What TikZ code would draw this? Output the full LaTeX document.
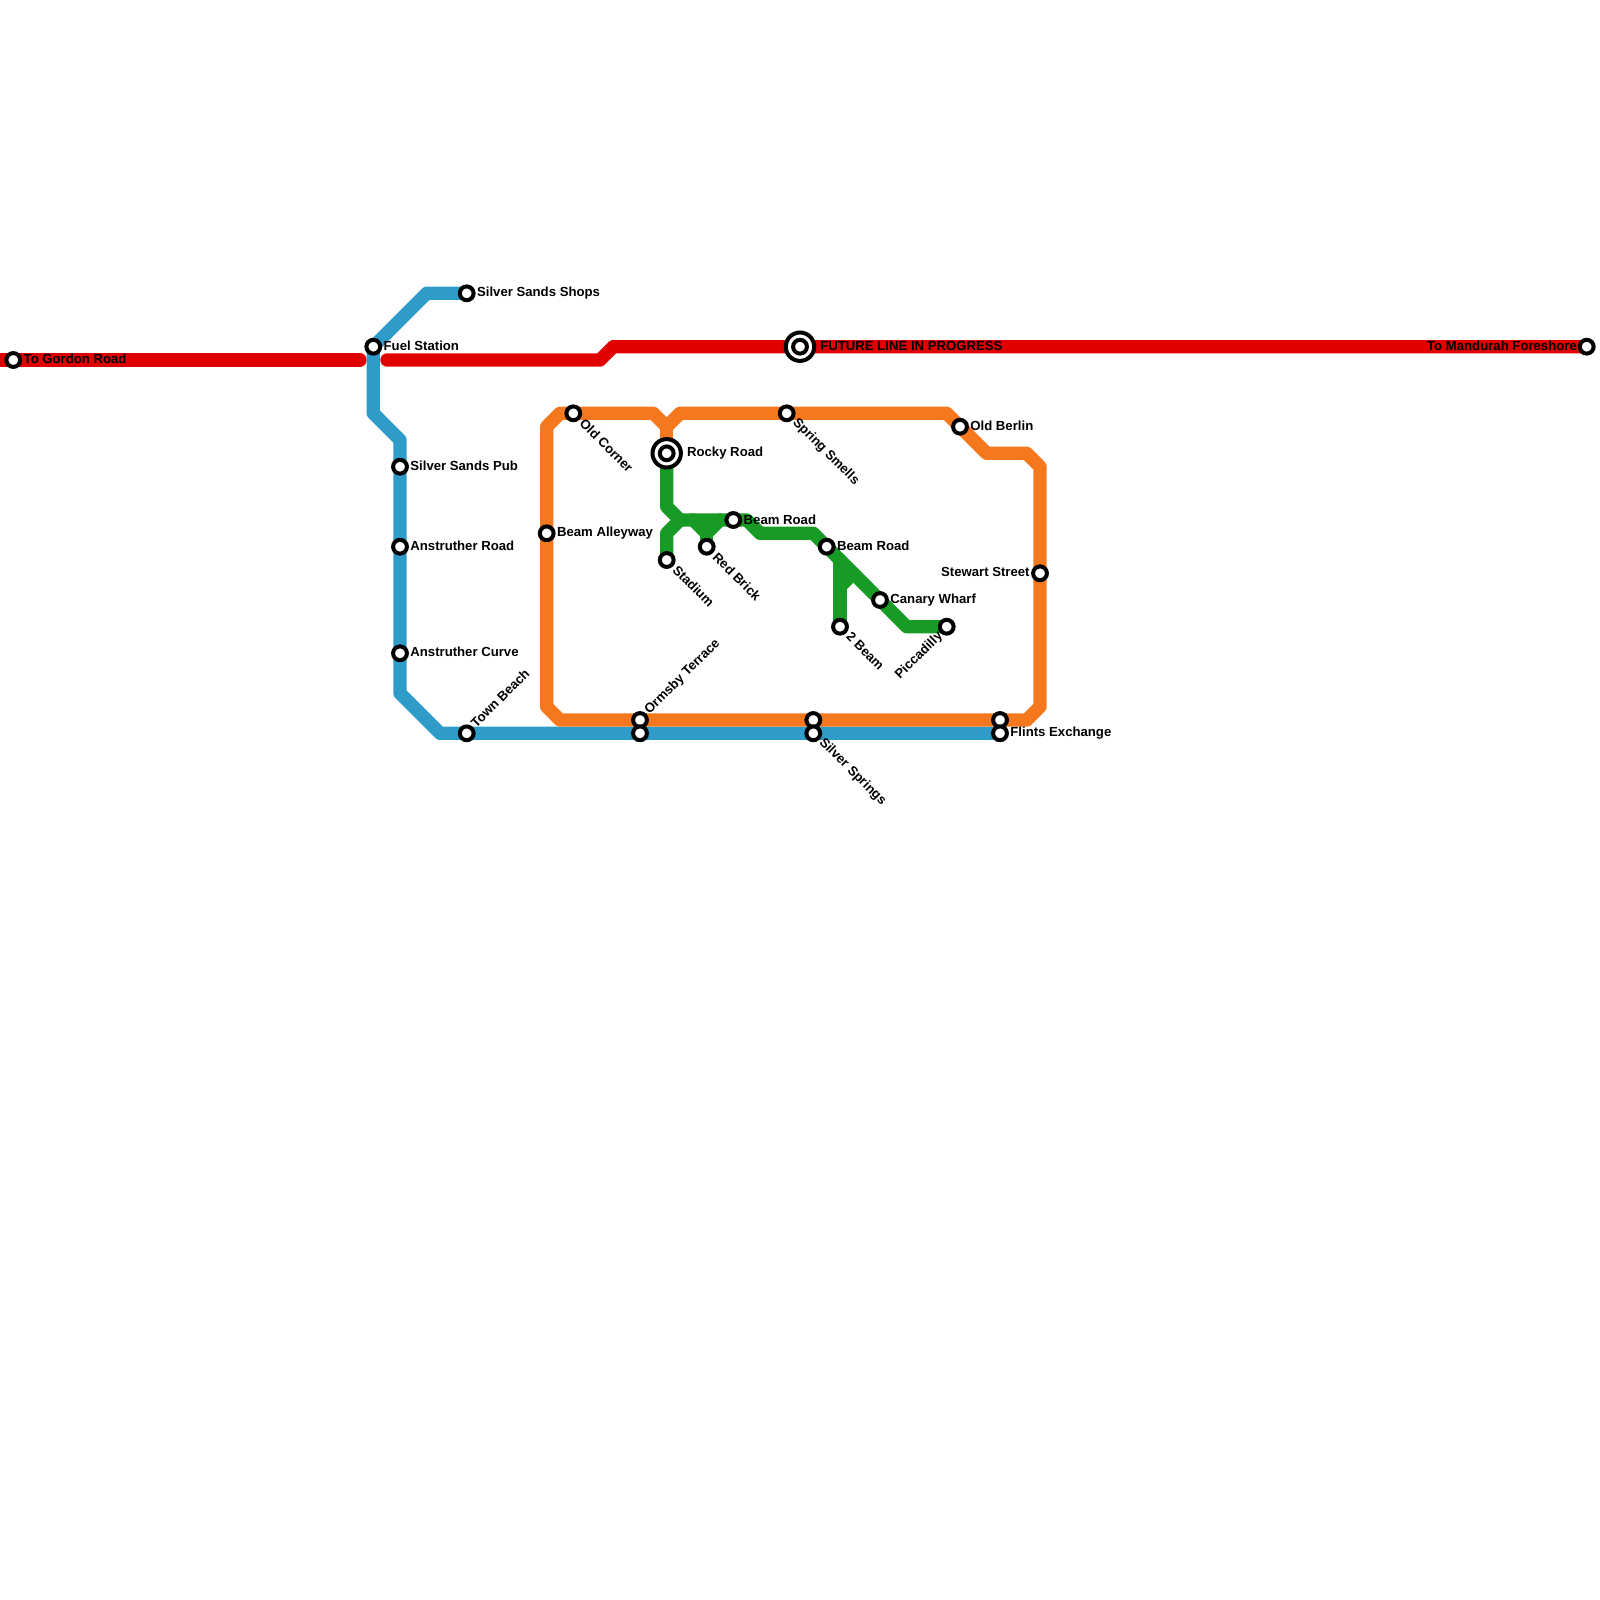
\documentclass[tikz,border=0pt]{standalone}
\usepackage{fontspec}
\setmainfont{Liberation Sans}
\tikzset{
  x=0.5pt,y=-0.5pt,
  railline/.style={line width=6.67pt,line cap=round,line join=round},
  redline/.style={railline,draw={rgb,255:red,224;green,0;blue,0}},
  blueline/.style={railline,draw={rgb,255:red,47;green,155;blue,200}},
  orangeline/.style={railline,draw={rgb,255:red,246;green,120;blue,30}},
  greenline/.style={railline,draw={rgb,255:red,24;green,155;blue,36}},
  stn/.style={circle,draw=black,fill=white,line width=2pt,minimum size=6.9pt,inner sep=0pt},
  hub/.style={circle,draw=black,fill=white,line width=2pt,minimum size=14.2pt,inner sep=0pt},
  lbl/.style={font=\bfseries\fontsize{6.58pt}{7pt}\selectfont,inner sep=0pt,text=black},
  lblE/.style={lbl,anchor=west},
  lblW/.style={lbl,anchor=east},
  lblSE/.style={lbl,anchor=west,rotate=-45},
  lblNE/.style={lbl,anchor=west,rotate=45},
  lblSW/.style={lbl,anchor=east,rotate=45},
}
\begin{document}
\begin{tikzpicture}
\useasboundingbox (0,0) rectangle (1600,1600);
% waypoints
\foreach \n/\x/\y in {
 ra/0/360, rb/360/360, rc/387/360, rd/600/360, re/613.3/346.7,
 ba/426.7/293.3, bb/373.3/413.3, bc/400/440, bd/400/693.3, be/440/733.3,
 oa/546.7/426.7, ob/560/413.3, oc/653.3/413.3, od/666.7/426.7, oe/680/413.3,
 of/946.7/413.3, og/986.7/453.3, oh/1026.7/453.3, oi/1040/466.7, oj/1040/706.7,
 ok/1026.7/720, ol/560/720, om/546.7/706.7,
 ga/666.7/506.7, gb/680/520, gc/666.7/533.3, gd/693.3/520, ge/706.7/533.3, gf/720/520,
 gm/746.7/520, gg/760/533.3, gh/813.3/533.3, gi/906.7/626.7, gj/840/560, gk/840/586.7, gl/853.3/573.3}
 {\coordinate (\n) at (\x,\y);}
% stations
\coordinate (sGordon) at (13.3,360);
\coordinate (sFuel) at (373.3,346.7);
\coordinate (sShops) at (466.7,293.3);
\coordinate (sPub) at (400,466.7);
\coordinate (sAnRoad) at (400,546.7);
\coordinate (sAnCurve) at (400,653.3);
\coordinate (sTown) at (466.7,733.3);
\coordinate (sOrmA) at (640,720);
\coordinate (sOrmB) at (640,733.3);
\coordinate (sSprA) at (813.3,720);
\coordinate (sSprB) at (813.3,733.3);
\coordinate (sFliA) at (1000,720);
\coordinate (sFliB) at (1000,733.3);
\coordinate (sAlley) at (546.7,533.3);
\coordinate (sOld) at (573.3,413.3);
\coordinate (sRocky) at (666.7,453.3);
\coordinate (sSpring) at (786.7,413.3);
\coordinate (sFuture) at (800,346.7);
\coordinate (sBerlin) at (960,426.7);
\coordinate (sStewart) at (1040,573.3);
\coordinate (sStadium) at (666.7,560);
\coordinate (sBrick) at (706.7,546.7);
\coordinate (sBeamA) at (733.3,520);
\coordinate (sBeamB) at (826.7,546.7);
\coordinate (sTwo) at (840,626.7);
\coordinate (sCanary) at (880,600);
\coordinate (sPicc) at (946.7,626.7);
\coordinate (sMand) at (1586.7,346.7);
% lines
\draw[redline] (ra) -- (rb);
\draw[redline] (rc) -- (rd) -- (re) -- (sMand);
\draw[blueline] (sShops) -- (ba) -- (sFuel) -- (bb) -- (bc) -- (bd) -- (be) -- (sFliB);
\draw[orangeline] (oa) -- (ob) -- (oc) -- (od) -- (oe) -- (of) -- (og) -- (oh) -- (oi) -- (oj) -- (ok) -- (ol) -- (om) -- cycle;
\draw[orangeline] (od) -- (sRocky);
\draw[greenline] (sRocky) -- (ga) -- (gb) -- (gm) -- (gg) -- (gh) -- (gi) -- (sPicc);
\draw[greenline] (sStadium) -- (gc) -- (gb);
\draw[greenline] (gd) -- (ge) -- (gf);
\draw[greenline] (sBrick) -- (ge);
\draw[greenline] (sTwo) -- (gj);
\draw[greenline] (gk) -- (gl);
% station marks
\foreach \s in {sGordon,sFuel,sShops,sPub,sAnRoad,sAnCurve,sTown,sOrmA,sOrmB,sSprA,sSprB,sFliA,sFliB,sAlley,sOld,sSpring,sBerlin,sStewart,sStadium,sBrick,sBeamA,sBeamB,sTwo,sCanary,sPicc,sMand}
  {\node[stn] (n\s) at (\s) {};}
\node[hub] (hRocky) at (sRocky) {};
\node[stn] (nRocky) at (sRocky) {};
\node[hub] (hFuture) at (sFuture) {};
\node[stn] (nFuture) at (sFuture) {};
% labels
\node[lblE] (tGordon) at (23.3,359) {To Gordon Road};
\node[lblE] (tFuel) at (383.3,345.7) {Fuel Station};
\node[lblE] (tShops) at (476.7,293.3) {Silver Sands Shops};
\node[lblE] (tPub) at (410,465.7) {Silver Sands Pub};
\node[lblE] (tAnRoad) at (410,545.7) {Anstruther Road};
\node[lblE] (tAnCurve) at (410,651.8) {Anstruther Curve};
\node[lblNE] (tTown) at (472.7,725.5) {Town Beach};
\node[lblNE] (tOrm) at (647,712.5) {Ormsby Terrace};
\node[lblSE] (tSpr) at (821,740.5) {Silver Springs};
\node[lblE] (tFli) at (1010,733) {Flints Exchange};
\node[lblE] (tAlley) at (556.7,533.3) {Beam Alleyway};
\node[lblSE] (tOld) at (582,421) {Old Corner};
\node[lblE] (tRocky) at (686.7,453.3) {Rocky Road};
\node[lblSE] (tSpring) at (794.5,420.5) {Spring Smells};
\node[lblE] (tFuture) at (820,345.7) {FUTURE LINE IN PROGRESS};
\node[lblE] (tBerlin) at (970,425.7) {Old Berlin};
\node[lblW] (tStewart) at (1030,572.3) {Stewart Street};
\node[lblSE] (tStadium) at (675,567.5) {Stadium};
\node[lblSE] (tBrick) at (715,554.5) {Red Brick};
\node[lblE] (tBeamA) at (743.3,519.5) {Beam Road};
\node[lblE] (tBeamB) at (836.7,545.7) {Beam Road};
\node[lblSE] (tTwo) at (848.5,634.5) {2 Beam};
\node[lblE] (tCanary) at (890,600.3) {Canary Wharf};
\node[lblSW] (tPicc) at (941,634) {Piccadilly};
\node[lblW] (tMand) at (1577.2,345.7) {To Mandurah Foreshore};
\end{tikzpicture}
\end{document}
